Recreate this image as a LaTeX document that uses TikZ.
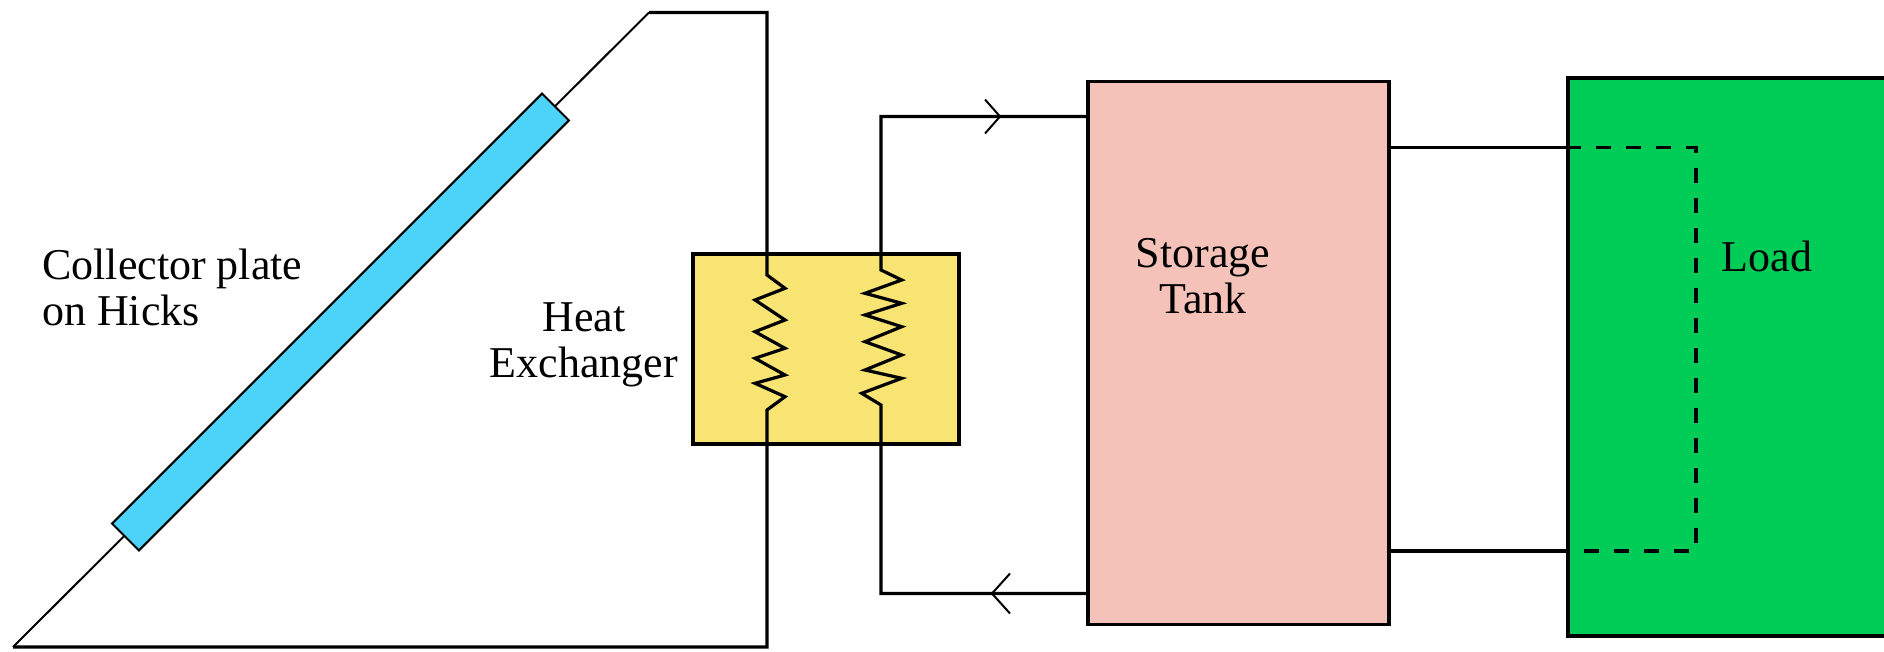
\documentclass[tikz,border=0pt]{standalone}
\usepackage{fontspec}
\setmainfont{Liberation Serif}
\definecolor{plateblue}{HTML}{4DD2FA}
\definecolor{tanksalmon}{HTML}{F4C2B8}
\definecolor{loadgreen}{HTML}{00CC58}
\definecolor{hxyellow}{HTML}{F8E472}
\tikzset{
  box/.style={draw=black, line width=3.5pt, inner sep=0pt},
  pipe/.style={draw=black, line width=3.2pt, line join=miter},
  thin/.style={draw=black, line width=2pt},
  label/.style={font=\fontsize{44}{46}\selectfont, inner sep=0pt, align=center},
  dashpipe/.style={draw=black, line width=3.2pt, dash pattern=on 15pt off 15pt},
}
\begin{document}
\begin{tikzpicture}[x=1pt,y=-1pt]
\useasboundingbox[fill=white] (0,0) rectangle (1884,652);
% nodes
\node[box, fill=hxyellow, minimum width=266pt, minimum height=190pt] (hx) at (826,349) {};
\node[box, fill=tanksalmon, minimum width=301pt, minimum height=543pt] (tank) at (1238.5,353) {};
\node[box, fill=loadgreen, minimum width=340pt, minimum height=558pt] (load) at (1738,357) {};
% coordinates
\coordinate (tl) at (13,647);
\coordinate (tt) at (649,12.5);
\coordinate (tr) at (767,12.5);
\coordinate (br) at (767,647);
% collector loop
\draw[thin] (tl) -- (tt);
\node[thin, fill=plateblue, minimum width=608pt, minimum height=38pt, inner sep=0pt, rotate=45] (plate) at (340.5,322) {};
\draw[pipe] (tt) -- (tr) -- (767,275)
  -- (785,288.3) -- (755,300) -- (785,320) -- (755,331.7) -- (785,348.3)
  -- (755,358.3) -- (785,375) -- (755,383.3) -- (785,396.7) -- (767,410)
  -- (br) -- (tl);
% tank loop
\coordinate (ttop) at (tank.west |- 0,116.5);
\coordinate (tbot) at (tank.west |- 0,593.5);
\draw[pipe] (ttop) -- (881,116.5) -- (881,270)
  -- (901.7,280) -- (865,293.3) -- (901.7,303.3) -- (865,315) -- (901.7,326.7)
  -- (865,341.7) -- (901.7,355) -- (865,370) -- (901.7,378.3) -- (861.7,393.3)
  -- (881,405) -- (881,593.5) -- (tbot);
% chevrons
\coordinate (a1) at (1000,116.5);
\coordinate (a2) at (992,593.5);
\draw[thin] ([xshift=-15pt,yshift=17pt]a1) -- (a1) -- ([xshift=-15pt,yshift=-17pt]a1);
\draw[thin] ([xshift=18pt,yshift=20pt]a2) -- (a2) -- ([xshift=18pt,yshift=-20pt]a2);
% tank to load
\coordinate (l1) at (load.west |- 0,147.6);
\coordinate (l2) at (load.west |- 0,551);
\draw[pipe] (tank.east |- l1) -- (l1);
\draw[pipe] (tank.east |- l2) -- (l2);
\draw[dashpipe] (l1) -- (1696,147.6) -- (1696,551) -- (l2);
% labels
\node[label, anchor=west, align=left] (lcoll) at (42,287) {Collector plate\\on Hicks};
\node[label] (lhx) at (584,345) {Heat\\Exchanger};
\node[label] (ltank) at (1203,276) {Storage\\Tank};
\node[label] (lload) at (1767,256) {Load};
\end{tikzpicture}
\end{document}
